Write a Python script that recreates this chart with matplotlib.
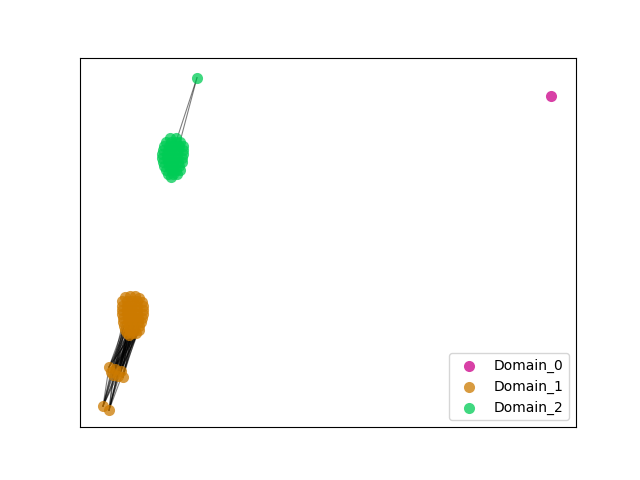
import matplotlib
matplotlib.use('Agg')
import matplotlib.pyplot as plt

# Domain_0: single point
d0_x = [551]
d0_y = [96]

# Domain_1: middle group (0-6), bottom pair (7-8), main blob (9-52)
d1_x = [109, 115, 121, 113, 118, 123, 111,
        103, 109,
        125, 130, 135, 139,
        122, 127, 132, 137, 142,
        122, 127, 132, 137, 143,
        122, 127, 132, 137, 143,
        122, 127, 132, 137, 143,
        123, 128, 133, 138, 142,
        123, 128, 133, 138, 141,
        124, 129, 134, 139,
        125, 130, 135, 139,
        127, 132, 136,
        129]
d1_y = [367, 369, 371, 375, 376, 377, 372,
        406, 410,
        297, 296, 296, 298,
        301, 301, 301, 301, 302,
        306, 306, 306, 306, 306,
        310, 310, 310, 310, 310,
        314, 314, 314, 314, 314,
        318, 318, 318, 318, 318,
        322, 322, 322, 322, 322,
        326, 326, 326, 326,
        330, 330, 330, 330,
        333, 333, 333,
        335]

# Domain_2: top outlier (0) + blob
d2_x = [197,
        170, 176,
        166, 171, 176, 180,
        164, 169, 174, 179, 183,
        163, 168, 173, 178, 183,
        162, 167, 172, 177, 183,
        162, 167, 172, 177, 182,
        163, 168, 173, 178, 182,
        164, 169, 174, 179,
        166, 171, 176, 180,
        168, 173, 177,
        171]
d2_y = [78,
        138, 138,
        142, 142, 142, 142,
        146, 146, 146, 146, 146,
        150, 150, 150, 150, 150,
        154, 154, 154, 154, 154,
        158, 158, 158, 158, 158,
        162, 162, 162, 162, 162,
        166, 166, 166, 166,
        170, 170, 170, 170,
        174, 174, 174,
        177]

# edges (index pairs within each domain)
d1_src = [0, 0, 0, 0, 0, 0, 1, 1, 1, 1, 1, 1, 2, 2, 2, 2, 2, 2,
          3, 3, 3, 3, 3, 3, 4, 4, 4, 4, 4, 4, 5, 5, 5, 5, 5, 5,
          6, 6, 6, 6, 6, 6,
          7, 7, 7, 7, 7, 7, 7, 7, 8, 8, 8, 8, 8, 8, 8, 8]
d1_dst = [43, 47, 49, 52, 44, 48, 44, 48, 50, 52, 45, 49, 45, 49, 51, 52, 46, 50,
          43, 47, 49, 50, 44, 39, 44, 48, 50, 51, 45, 40, 45, 49, 51, 52, 46, 41,
          43, 47, 49, 48, 38, 50,
          49, 47, 43, 0, 3, 6, 50, 52, 50, 48, 52, 1, 3, 4, 51, 44]
d2_src = [0, 0]
d2_dst = [5, 6]

colors = ['#cc0088', '#cc7a00', '#00cc55']

fig, ax = plt.subplots(figsize=(6.4, 4.8), dpi=100)

for s, t in zip(d1_src, d1_dst):
    ax.plot([d1_x[s], d1_x[t]], [d1_y[s], d1_y[t]], color='k', alpha=0.5, lw=0.8, zorder=1)
for s, t in zip(d2_src, d2_dst):
    ax.plot([d2_x[s], d2_x[t]], [d2_y[s], d2_y[t]], color='k', alpha=0.5, lw=0.8, zorder=1)

ax.scatter(d0_x, d0_y, color=colors[0], s=64, alpha=0.75, linewidths=0, label='Domain_0', zorder=2)
ax.scatter(d1_x, d1_y, color=colors[1], s=64, alpha=0.75, linewidths=0, label='Domain_1', zorder=2)
ax.scatter(d2_x, d2_y, color=colors[2], s=64, alpha=0.75, linewidths=0, label='Domain_2', zorder=2)

ax.set_xlim(80, 576)
ax.set_ylim(427, 58)
ax.set_xticks([])
ax.set_yticks([])
ax.legend(loc='lower right')

plt.savefig('out.png', dpi=100)
